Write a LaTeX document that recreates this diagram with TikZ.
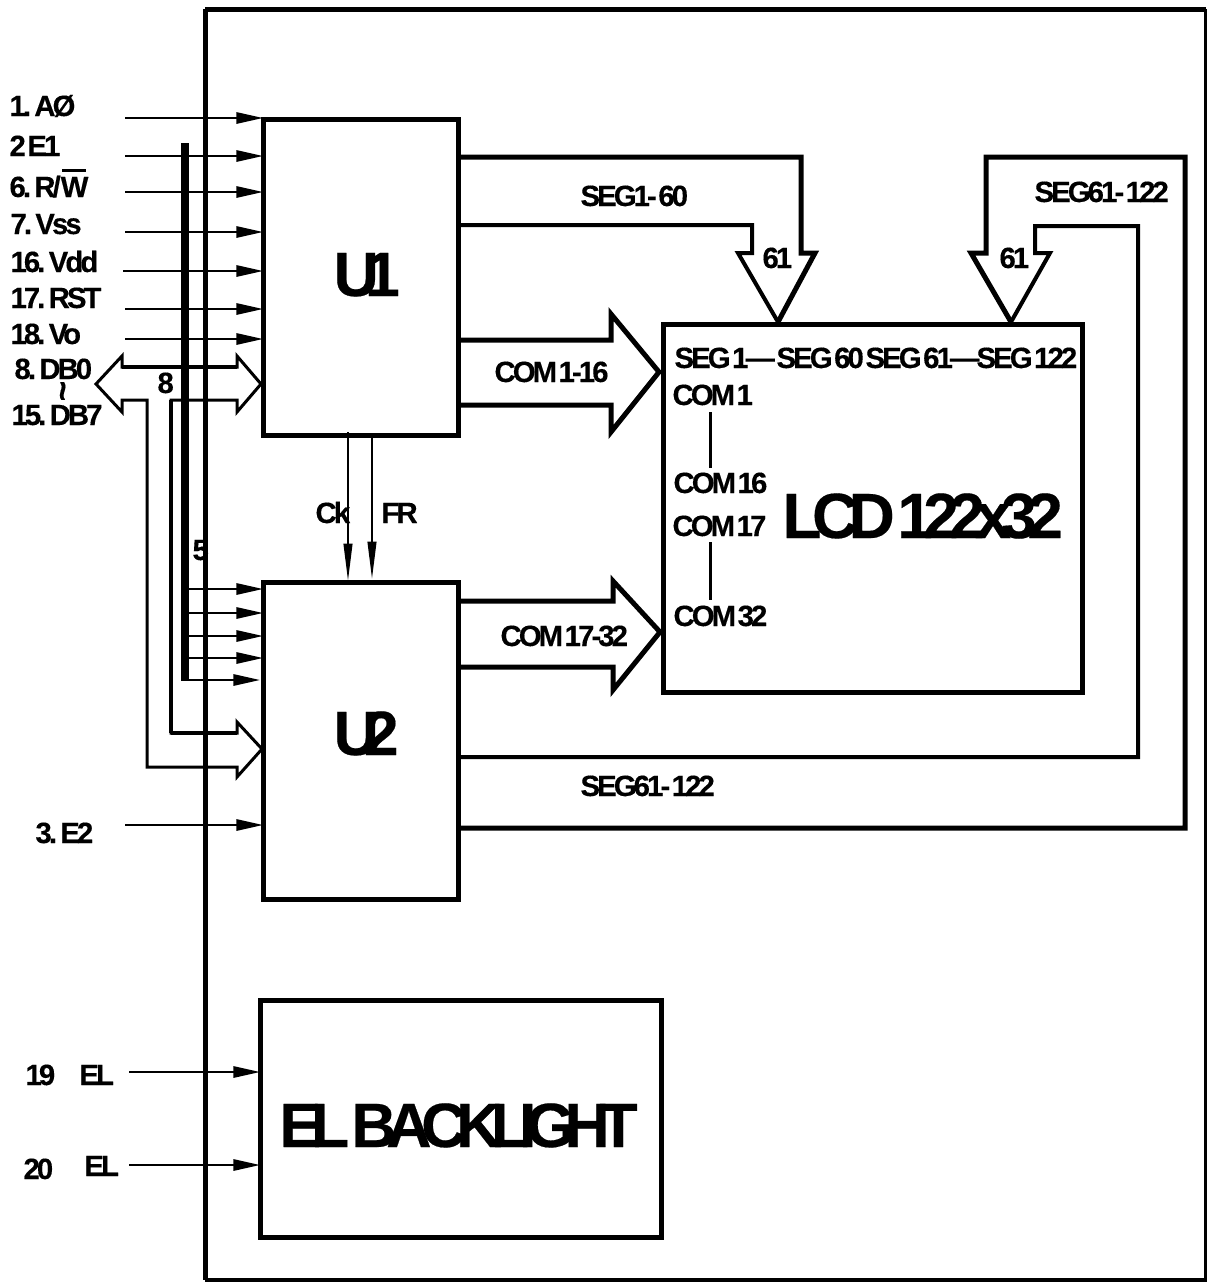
\documentclass[tikz,border=0pt]{standalone}
\usepackage{fontspec}
\setmainfont[LetterSpace=-10,WordSpace=0.3,BoldFeatures={FakeBold=0.3}]{Liberation Sans}
\usetikzlibrary{arrows.meta}
\tikzset{every picture/.style={line width=0.75pt}}
\tikzset{
  blockbox/.style={draw,line width=3.75pt,outer sep=0pt,inner sep=0pt},
  lab/.style={anchor=base west,inner sep=0pt,font=\bfseries\fontsize{22}{22}\selectfont},
  biglab/.style={anchor=base west,inner sep=0pt,font=\bfseries\fontsize{47}{47}\selectfont\addfontfeature{LetterSpace=-16.5}},
  sig/.style={line width=1.5pt,-{Triangle[length=20pt,width=8.5pt]}},
  clk/.style={line width=1.5pt,-{Triangle[length=28pt,width=6.5pt]}},
  busline/.style={line width=2.25pt,miter limit=10},
  wideline/.style={line width=3.75pt,miter limit=10}
}
\begin{document}
\begin{tikzpicture}[x=0.75pt,y=0.75pt,yscale=-1,xscale=1]
\useasboundingbox (0,0) rectangle (1207,1282);

%Outer frame
\draw [line width=3.75pt] (205,9) -- (1206,9);
\draw [line width=3.75pt] (205,9) -- (205,1280);
\draw [line width=2.5pt] (205,1280) -- (1206,1280) -- (1206,9);

%Blocks
\node [blockbox,minimum width=146.25pt,minimum height=237pt] (u1) at (360.5,277) {};
\node [blockbox,minimum width=146.25pt,minimum height=237.75pt] (u2) at (360.5,740.5) {};
\node [blockbox,minimum width=314.25pt,minimum height=276pt] (lcd) at (872.5,508) {};
\node [blockbox,minimum width=300.75pt,minimum height=177.75pt] (el) at (460.5,1118.5) {};
\node [biglab,font=\bfseries\fontsize{47}{47}\selectfont\addfontfeature{LetterSpace=-22}] (uonename) at (333,296) {U1};
\node [biglab,font=\bfseries\fontsize{47}{47}\selectfont\addfontfeature{LetterSpace=-24}] (utwoname) at (333,755) {U2};
\node [biglab,font=\bfseries\fontsize{48}{48}\selectfont\addfontfeature{LetterSpace=-15}] (lcdname) at (782,538) {LCD 122x32};
\node [biglab] (elname) at (279,1147) {EL BACKLIGHT};

%Bus
\draw [line width=6pt] (185,143) -- (185,681);

%Inputs of U1
\foreach \y/\xs/\n in {118/125/ao,156/125/eo,192/125/rw,232/125/vss,271/123/vdd,309/125/rst,339/125/vo}
{
  \coordinate (from\n) at (\xs,\y);
  \draw [sig] (from\n) -- (u1.west |- from\n);
}
\node [lab] (labao) at (9,116) {1. AØ};
\node [lab] (labeo) at (9,156) {2 E1};
\node [lab] (labrw) at (9,197) {6. R/\rlap{\hspace{1pt}\rule[19pt]{18pt}{2pt}}W};
\node [lab] (labvss) at (10,234) {7. Vss};
\node [lab] (labvdd) at (10,272) {16. Vdd};
\node [lab] (labrst) at (10,308) {17. RST};
\node [lab] (labvo) at (10,344) {18. Vo};
\node [lab] (labdbz) at (14,379) {8. DB0};
\node [inner sep=0pt,rotate=90,font=\bfseries\fontsize{26}{26}\selectfont] (labtil) at (67,391) {\textasciitilde};
\node [lab] (labdbs) at (11,425) {15. DB7};
\node [lab] (labeight) at (157,393) {8};
\node [lab] (labfive) at (192,560) {5};

%Inputs of U2
\foreach \y/\n in {589/a,613/b,636/c,658/d}
{
  \coordinate (from\n) at (189,\y);
  \draw [sig] (from\n) -- (u2.west |- from\n);
}
\coordinate (frome) at (189,680);
\draw [sig] (frome) -- (260,680);
\coordinate (fromet) at (125,825);
\draw [sig] (fromet) -- (u2.west |- fromet);
\node [lab] (labet) at (35,843) {3. E2};

%Data bus arrow
\draw [busline] (122,367) -- (122,356) -- (96,384) -- (122,412) -- (122,400) -- (147,400) -- (147,767) -- (237,767) -- (237,777) -- (262,749) -- (237,722) -- (237,733) -- (171,733) -- (171,400) -- (237,400) -- (237,412) -- (261,384) -- (237,356) -- (237,367) -- cycle;
\draw [line width=3.5pt] (122,367) -- (237,367);
\draw [line width=3.5pt] (171,733) -- (237,733);
\draw [line width=2.75pt] (171,400) -- (171,733);

%U1 to U2
\coordinate (ckfrom) at (348,432);
\coordinate (frfrom) at (372,434);
\draw [clk] (ckfrom) -- (348,581);
\draw [clk] (frfrom) -- (372,579);
\node [lab] (labck) at (315,523) {Ck};
\node [lab] (labfr) at (381,523) {FR};

%SEG arrows of U1
\draw [wideline] (u1.east |- 0,157) -- (801,157) -- (801,253) -- (815,253) -- (778,322);
\draw [line width=3pt,miter limit=10] (778,322) -- (738,253) -- (752,253) -- (752,225) -- (u1.east |- 0,225);
\node [lab] (labsega) at (580,206) {SEG1- 60};
\node [lab] (labsixa) at (762,268) {61};

%SEG arrows of U2
\draw [wideline] (u2.east |- 0,828) -- (1185,828) -- (1185,157) -- (986,157) -- (986,253) -- (971,253) -- (1011,322);
\draw [line width=3pt,miter limit=10] (1011,322) -- (1050,253) -- (1035,253) -- (1035,226) -- (1138,226) -- (1138,757) -- (u2.east |- 0,757);
\node [lab] (labsegb) at (1034,202) {SEG61- 122};
\node [lab] (labsegc) at (580,796) {SEG61- 122};
\node [lab] (labsixb) at (999,268) {61};

%COM arrows
\draw [wideline] (u1.east |- 0,340) -- (611,340) -- (611,314) -- (659,372) -- (611,432) -- (611,405) -- (u1.east |- 0,405);
\draw [wideline] (u2.east |- 0,601) -- (613,601) -- (613,581) -- (660,632) -- (613,690) -- (613,667) -- (u2.east |- 0,667);
\node [lab] (labcoma) at (494,382) {COM 1-16};
\node [lab] (labcomb) at (500,646) {COM 17-32};

%LCD text
\node [lab] (segone) at (674,368) {SEG 1—};
\node [lab] (segsixty) at (776,368) {SEG 60};
\node [lab] (segsixo) at (865,368) {SEG 61—};
\node [lab] (segtwo) at (976,368) {SEG 122};
\node [lab] (comone) at (672,405) {COM 1};
\node [lab] (comsix) at (673,493) {COM 16};
\node [lab] (comsev) at (672,536) {COM 17};
\node [lab] (comthr) at (673,626) {COM 32};
\coordinate (tickaup) at (710,412);
\coordinate (tickalo) at (710,468);
\coordinate (tickbup) at (710,542);
\coordinate (tickblo) at (710,600);
\draw [line width=2.25pt] (tickaup) -- (tickalo);
\draw [line width=2.25pt] (tickbup) -- (tickblo);

%Backlight
\coordinate (fromela) at (129,1072);
\coordinate (fromelb) at (129,1165);
\draw [sig] (fromela) -- (el.west |- fromela);
\draw [sig] (fromelb) -- (el.west |- fromelb);
\node [lab] (labnineteen) at (25,1085) {19};
\node [lab] (labela) at (79,1085) {EL};
\node [lab] (labtwenty) at (23,1179) {20};
\node [lab] (labelb) at (84,1176) {EL};

\end{tikzpicture}
\end{document}
